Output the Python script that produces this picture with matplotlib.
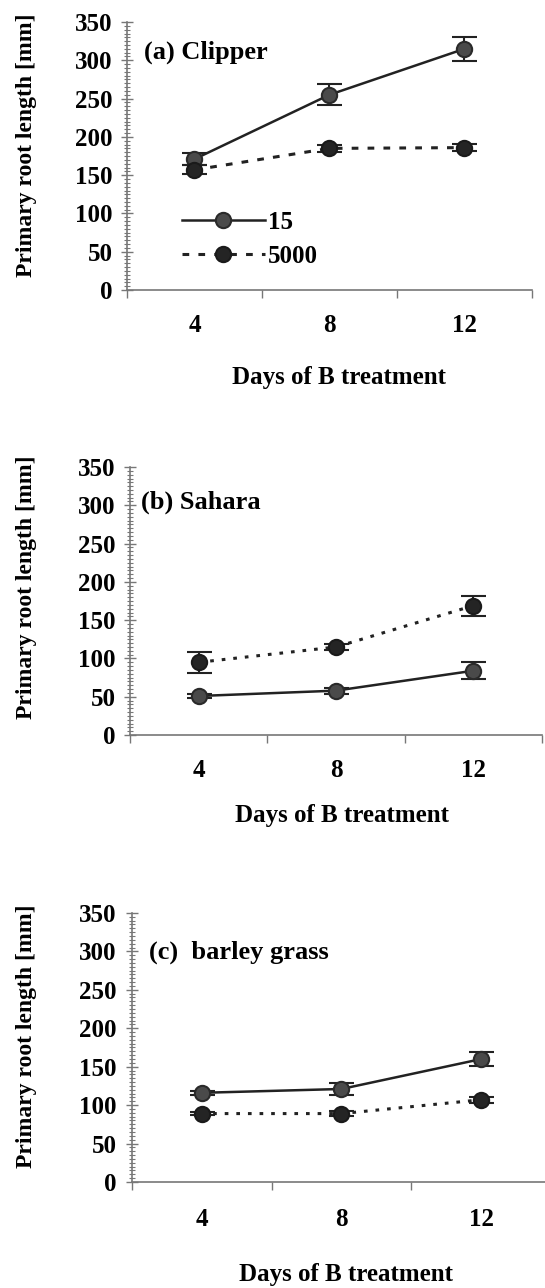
import numpy as np
import matplotlib.pyplot as plt
from matplotlib.ticker import MultipleLocator, FixedLocator, NullFormatter, FixedFormatter

plt.rcParams['font.family'] = ['Liberation Serif', 'DejaVu Serif']
plt.rcParams['font.weight'] = 'bold'

days = [4, 8, 12]
treatments = ['15', '5000']

clipper_15 = [171, 255, 315]
clipper_15_err = [8, 14, 16]
clipper_5000 = [157, 185, 186]
clipper_5000_err = [6, 5, 5]

sahara_15 = [51, 58, 84]
sahara_15_err = [3, 4, 11]
sahara_5000 = [95, 115, 169]
sahara_5000_err = [14, 4, 13]

barley_15 = [116, 121, 160]
barley_15_err = [3, 8, 9]
barley_5000 = [89, 89, 107]
barley_5000_err = [2, 3, 4]

FS = 18
AXC = '#777777'


def panel(fig, rect, xmax, title, tpos, s15, e15, s5000, e5000, dash5000,
          tickpad, xlab_pos, ylab_pos, legend=False):
    ax = fig.add_axes(rect)
    x = np.arange(len(days)) + 0.5

    h15 = ax.errorbar(x, s15, yerr=e15, color='#222222', lw=1.8, ls='-',
                      marker='o', ms=11, mfc='#4a4a4a', mec='#2a2a2a', mew=1.5,
                      ecolor='#222222', elinewidth=1.5, capsize=9, capthick=2)
    h5000 = ax.errorbar(x, s5000, yerr=e5000, color='#222222', lw=2.2, ls=(0, dash5000),
                        marker='o', ms=11, mfc='#242424', mec='#1a1a1a', mew=1.5,
                        ecolor='#222222', elinewidth=1.5, capsize=9, capthick=2)
    for bars in (h15[2], h5000[2]):
        for b in bars:
            b.set_linestyle('-')

    ax.set_xlim(0, xmax)
    ax.set_ylim(0, 350)
    for s in ('top', 'right'):
        ax.spines[s].set_visible(False)
    for s in ('left', 'bottom'):
        ax.spines[s].set_color(AXC)
        ax.spines[s].set_linewidth(1.2)

    ax.yaxis.set_major_locator(MultipleLocator(50))
    ax.yaxis.set_minor_locator(MultipleLocator(5))
    ax.tick_params(axis='y', which='major', direction='inout', length=9, width=1.0,
                   color=AXC, labelsize=FS, pad=6)
    ax.tick_params(axis='y', which='minor', direction='inout', length=4, width=0.8,
                   color=AXC)

    ax.xaxis.set_major_locator(FixedLocator([0, 1, 2, 3]))
    ax.xaxis.set_major_formatter(NullFormatter())
    ax.xaxis.set_minor_locator(FixedLocator(x))
    ax.xaxis.set_minor_formatter(FixedFormatter([str(d) for d in days]))
    ax.tick_params(axis='x', which='major', direction='out', length=6, width=1.0, color=AXC)
    ax.tick_params(axis='x', which='minor', length=0, labelsize=FS, pad=tickpad)

    ax.text(tpos[0], tpos[1], title, transform=ax.transAxes, fontsize=FS + 1,
            fontweight='bold', ha='left', va='center')

    ax.set_xlabel('Days of B treatment', fontsize=FS, fontweight='bold', va='center')
    ax.xaxis.set_label_coords(*xlab_pos)
    ax.set_ylabel('Primary root length [mm]', fontsize=FS - 1, fontweight='bold', va='center')
    ax.yaxis.set_label_coords(*ylab_pos)

    if legend:
        ax.legend([h15[0], h5000[0]], treatments, loc='upper left',
                  bbox_to_anchor=(0.136, 0.296), frameon=False, fontsize=FS,
                  handlelength=3.3, handletextpad=0.15, borderpad=0,
                  borderaxespad=0, labelspacing=0.45, numpoints=1)
    return ax


fig = plt.figure(figsize=(5.45, 12.88), dpi=100)

panel(fig, [0.2330, 0.7748, 0.7431, 0.2081], 3.0, '(a) Clipper', (0.042, 0.888),
      clipper_15, clipper_15_err, clipper_5000, clipper_5000_err, (2.2, 3.0),
      17, (0.523, -0.325), (-0.249, 0.541), legend=True)

panel(fig, [0.2385, 0.4293, 0.7560, 0.2081], 3.0, '(b) Sahara', (0.027, 0.869),
      sahara_15, sahara_15_err, sahara_5000, sahara_5000_err, (1.2, 2.6),
      17, (0.514, -0.299), (-0.252, 0.552))

panel(fig, [0.2413, 0.0823, 0.7706, 0.2089], 3.0, '(c)  barley grass', (0.042, 0.855),
      barley_15, barley_15_err, barley_5000, barley_5000_err, (1.2, 2.6),
      19, (0.511, -0.345), (-0.251, 0.543))

fig.savefig('out.png', dpi=100)
